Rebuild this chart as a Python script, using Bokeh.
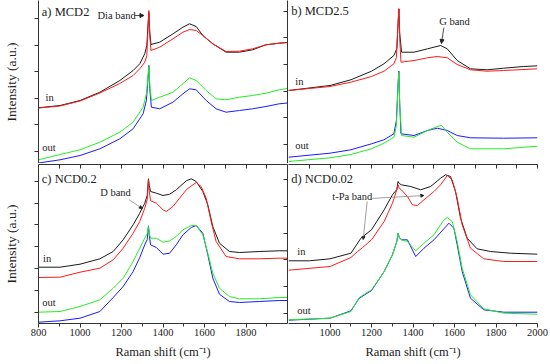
from bokeh.plotting import figure
from bokeh.layouts import column, row
from bokeh.models import Range1d, LinearAxis, FixedTicker, Label, Arrow, NormalHead
from bokeh.embed import file_html
from bokeh.resources import INLINE

FONT = "Liberation Serif"
AX = "#333333"
TXT = "#222222"
C_BLACK, C_RED, C_GREEN, C_BLUE = "#1a1a1a", "#ff1a1a", "#22ee22", "#1a1aff"

# ---------------- data (Raman shift, intensity a.u.) ----------------
# panel a) MCD2
a_in_x = [800, 904, 1000, 1096, 1192, 1256, 1288, 1312, 1322, 1328, 1332, 1336, 1342, 1384, 1448, 1496, 1528, 1560, 1592, 1640, 1704, 1768, 1832, 1896, 1960, 2000]
a_black = [55.7, 58, 63, 71.3, 83, 93, 99.7, 109.7, 118, 140, 151, 132, 119, 121.3, 129.7, 136.3, 139.7, 137, 128, 119.7, 111.3, 111.3, 113.7, 118.7, 120.3, 121]
a_red = [55.5, 57.5, 62.5, 70.5, 80, 88, 94.7, 101.3, 108, 135, 153, 128, 113, 116.3, 124.7, 131.3, 134, 133, 128, 119.7, 112, 112.3, 114.7, 118.7, 120.3, 121]
a_out_x = [800, 904, 1000, 1096, 1192, 1256, 1304, 1320, 1328, 1332, 1336, 1344, 1384, 1448, 1496, 1528, 1560, 1608, 1656, 1704, 1768, 1832, 1896, 1960, 2000]
a_green = [3.7, 9, 13.7, 21.3, 31.3, 41.3, 56.3, 69.7, 88, 97, 80, 63, 66.3, 71.3, 79.7, 85.7, 83, 73, 64.7, 63.7, 66.3, 68, 70.3, 73.7, 75]
a_blue = [0.5, 3.7, 8, 14.7, 24.7, 34.7, 49.7, 63, 85, 98, 75, 56.3, 54.7, 61.3, 69.7, 74.7, 73.7, 63, 54.7, 51.3, 53, 54.7, 57, 59.7, 60.5]

# panel b) MCD2.5
b_black_x = [800, 1000, 1100, 1200, 1260, 1308, 1322, 1328, 1332, 1336, 1345, 1405, 1470, 1533, 1565, 1613, 1677, 1757, 1837, 1933, 2000]
b_black = [73, 78, 83.7, 92.3, 99.7, 108, 115, 140, 154.7, 130, 111.3, 111.3, 114.7, 118, 114.7, 103, 94.7, 93.7, 95.3, 97, 97.7]
b_red_x = [800, 1000, 1100, 1200, 1260, 1308, 1320, 1328, 1332, 1336, 1342, 1405, 1470, 1517, 1565, 1613, 1677, 1757, 1837, 2000]
b_red = [73, 77, 81.3, 87, 92.3, 99.7, 106, 140, 154.7, 125, 101.3, 103, 105.7, 107, 105.7, 99, 93.7, 92.3, 93, 94.7]
b_blue_x = [800, 1000, 1100, 1200, 1260, 1308, 1320, 1328, 1332, 1336, 1342, 1405, 1470, 1517, 1565, 1613, 1677, 1837, 2000]
b_blue = [6.3, 10.3, 13.7, 19.7, 23.7, 29.7, 43, 80, 92.3, 60, 29.7, 28, 33, 35.3, 33, 28, 25.7, 25.3, 25.7]
b_green_x = [800, 1000, 1100, 1200, 1260, 1308, 1320, 1328, 1332, 1336, 1345, 1405, 1470, 1517, 1538, 1565, 1613, 1677, 1837, 2000]
b_green = [2, 5.7, 9, 14.7, 20.3, 26.3, 38, 78, 91.3, 58, 28, 26.3, 33, 37, 38, 31.3, 21.3, 14.7, 14.7, 17.3]

# panel c) NCD0.2
c_black_x = [800, 904, 1000, 1096, 1160, 1208, 1256, 1288, 1312, 1324, 1330, 1334, 1340, 1368, 1400, 1432, 1464, 1512, 1536, 1560, 1592, 1616, 1640, 1672, 1720, 1768, 1864, 1960, 2000]
c_black = [56.3, 56.3, 59.3, 64.7, 72, 83.7, 98.7, 110.3, 120.3, 128, 144.7, 138, 132, 130.3, 128, 129.3, 133.7, 142.7, 144.7, 142, 132, 118.7, 97, 80.3, 72, 71, 72, 72.7, 72.7]
c_red_x = [800, 904, 1000, 1096, 1160, 1208, 1256, 1288, 1312, 1324, 1330, 1334, 1340, 1368, 1400, 1416, 1448, 1480, 1512, 1544, 1560, 1584, 1608, 1632, 1656, 1704, 1768, 1864, 1960, 2000]
c_red = [46, 46.3, 51.3, 55.3, 63.7, 75.3, 90.3, 102, 115.3, 124, 143.7, 132, 122.7, 120.3, 113.7, 112, 117, 125.3, 133.7, 138.7, 141, 137, 125.3, 102, 82, 67, 64.7, 64.7, 65.3, 65.3]
c_out_x = [800, 904, 1000, 1096, 1160, 1208, 1256, 1288, 1312, 1324, 1330, 1334, 1340, 1368, 1400, 1432, 1464, 1496, 1536, 1560, 1592, 1616, 1640, 1672, 1720, 1768, 1864, 1960, 2000]
c_green = [11.3, 12, 17, 23.7, 35.3, 45.3, 62, 75.3, 85.3, 90, 97, 90, 85.3, 85.3, 81.3, 82.7, 87, 93.7, 98, 98, 88.7, 70.3, 50.3, 35.3, 27, 24.7, 24.7, 26, 26]
c_blue = [1.3, 2.7, 5.3, 12, 26, 37, 52, 66, 78.7, 84, 97.7, 88, 78.7, 76, 69.3, 70.3, 78.7, 88.7, 96, 98, 90.3, 68.7, 45.3, 29.3, 22, 21, 22, 23, 23]

# panel d) NCD0.02
d_black_x = [800, 901, 1000, 1101, 1149, 1200, 1261, 1301, 1322, 1328, 1334, 1344, 1389, 1437, 1485, 1533, 1557, 1581, 1605, 1629, 1661, 1709, 1773, 1869, 2000]
d_black = [62.7, 62.7, 64.7, 70.3, 85.3, 93.7, 113.7, 128.7, 134, 142, 140, 138.7, 137, 133.7, 137, 145.3, 148.7, 147, 132, 105.3, 85.3, 74.7, 72, 70.3, 69.3]
d_red_x = [800, 1000, 1101, 1133, 1157, 1200, 1261, 1301, 1322, 1328, 1334, 1344, 1373, 1397, 1421, 1453, 1501, 1533, 1565, 1589, 1613, 1637, 1677, 1741, 1837, 2000]
d_red = [53.3, 57, 66, 72, 76, 83.7, 102, 120.3, 133.7, 138.7, 135, 133.7, 127, 118.7, 118, 123.7, 132, 138.7, 148, 143.7, 125.3, 98.7, 75.3, 64.7, 62, 62]
d_green_x = [800, 1000, 1101, 1141, 1200, 1261, 1301, 1322, 1328, 1334, 1344, 1373, 1413, 1453, 1501, 1549, 1565, 1589, 1613, 1637, 1677, 1741, 1837, 2000]
d_green = [3.7, 5.3, 12, 26, 33.7, 52, 68.7, 82, 90.3, 86, 83.7, 82, 72.7, 80.3, 88.7, 103.7, 106, 102, 82, 55.3, 28.7, 14.7, 10.3, 9.3]
d_blue_x = [800, 1000, 1101, 1141, 1200, 1261, 1301, 1322, 1328, 1334, 1344, 1373, 1413, 1453, 1501, 1549, 1573, 1597, 1613, 1637, 1677, 1741, 1837, 2000]
d_blue = [3.3, 5.3, 12.7, 25.3, 33, 52, 68.7, 82, 90.3, 86, 83.7, 83.7, 67, 75.3, 83.7, 94.7, 100.3, 95.3, 78.7, 52, 25.3, 13.7, 11.3, 11.3]

# y tick positions (unlabelled) for each panel
a_yticks = [12.3, 39, 65.3, 92, 118, 144.7]
b_yticks = [19, 46, 72.3, 99.5, 126.3, 152.3]
c_yticks = [11, 33, 54.7, 77, 98.7, 120.3, 142]
d_yticks = [10.3, 37, 63.7, 90.3, 117, 143.7]

x_major_left = [800, 1000, 1200, 1400, 1600, 1800]
x_major_right = [1000, 1200, 1400, 1600, 1800, 2000]
x_minor = [900, 1100, 1300, 1500, 1700, 1900]
x_top_ticks_left = [900, 1000, 1100, 1200, 1300, 1400, 1500, 1600, 1700, 1800, 1900]
x_top_ticks_right = [900, 1000, 1100, 1200, 1300, 1400, 1500, 1600, 1700, 1800, 1900, 2000]

TOP_MAX, BOT_MAX = 163, 159
LEFT_B, FRAME_W, RIGHT_B = 38, 249, 13
TOP_H, BOT_FRAME, BOT_B = 163, 159, 41


def make_fig(left, top):
    w = (LEFT_B + FRAME_W + 1) if left else (FRAME_W + RIGHT_B)
    h = TOP_H if top else (1 + BOT_FRAME + BOT_B)
    p = figure(width=w, height=h, x_range=Range1d(800, 2000),
               y_range=Range1d(0, TOP_MAX if top else BOT_MAX),
               output_backend="svg", toolbar_location=None,
               x_axis_location=None if top else "below",
               y_axis_location="left" if left else None,
               min_border_left=LEFT_B if left else 0,
               min_border_right=1 if left else RIGHT_B,
               min_border_top=0 if top else 1,
               min_border_bottom=0 if top else BOT_B)
    p.outline_line_color = None
    p.grid.visible = False
    p.background_fill_color = "white"
    p.border_fill_color = "white"
    return p


def blank(ticks):
    return {t: "" for t in ticks}


def style_left_axis(p, ticks):
    ax = p.left[0]
    ax.ticker = FixedTicker(ticks=ticks)
    ax.major_tick_out = 4
    ax.major_tick_in = 0
    ax.minor_tick_out = 0
    ax.minor_tick_in = 0
    ax.major_label_overrides = blank(ticks)
    ax.major_label_text_font_size = "0px"
    ax.major_label_standoff = 0
    ax.axis_line_color = AX
    ax.major_tick_line_color = AX
    ax.axis_label = "Intensity (a.u.)"
    ax.axis_label_text_font = FONT
    ax.axis_label_text_font_style = "normal"
    ax.axis_label_text_font_size = "13.5px"
    ax.axis_label_text_color = TXT
    ax.axis_label_standoff = 16


def add_right_axis(p, rmax, ticks):
    p.extra_y_ranges = {"rp": Range1d(0, rmax)}
    ax = LinearAxis(y_range_name="rp", ticker=FixedTicker(ticks=ticks),
                    major_tick_in=4, major_tick_out=0, minor_tick_in=0, minor_tick_out=0,
                    major_label_overrides=blank(ticks),
                    major_label_text_font_size="0px", major_label_standoff=0,
                    axis_line_color=AX, major_tick_line_color=AX)
    p.add_layout(ax, "right")


def add_above_axis(p, ticks):
    ax = LinearAxis(ticker=FixedTicker(ticks=ticks),
                    major_tick_in=4, major_tick_out=0, minor_tick_in=0, minor_tick_out=0,
                    major_label_overrides=blank(ticks),
                    major_label_text_font_size="0px", major_label_standoff=0,
                    axis_line_color=AX, major_tick_line_color=AX)
    p.add_layout(ax, "above")


def style_bottom_axis(p, majors):
    ax = p.below[0]
    ax.ticker = FixedTicker(ticks=majors, minor_ticks=x_minor)
    ax.major_tick_out = 4
    ax.major_tick_in = 0
    ax.minor_tick_out = 3
    ax.minor_tick_in = 0
    ax.axis_line_color = AX
    ax.major_tick_line_color = AX
    ax.minor_tick_line_color = AX
    ax.major_label_text_font = FONT
    ax.major_label_text_font_size = "10.5px"
    ax.major_label_text_color = TXT
    ax.major_label_standoff = 1
    ax.axis_label = "Raman shift (cm\u207b\u00b9)"
    ax.axis_label_text_font = FONT
    ax.axis_label_text_font_style = "normal"
    ax.axis_label_text_font_size = "12.5px"
    ax.axis_label_text_color = TXT
    ax.axis_label_standoff = 6


def lines(p, series):
    for xs, ys, col in series:
        p.line(xs, ys, line_color=col, line_width=1)


def label(p, x, y, text, size="10.5px", align="left"):
    p.add_layout(Label(x=x, y=y, text=text, text_font=FONT, text_font_size=size,
                       text_color=TXT, text_baseline="middle", text_align=align))


def arrow(p, x0, y0, x1, y1, color="#222222", size=4):
    p.add_layout(Arrow(end=NormalHead(size=size, fill_color="#222222", line_color="#222222"),
                       x_start=x0, y_start=y0, x_end=x1, y_end=y1,
                       line_color=color, line_width=0.8))


# ---- a ----
pa = make_fig(True, True)
style_left_axis(pa, a_yticks)
add_right_axis(pa, TOP_MAX, b_yticks)
lines(pa, [(a_in_x, a_black, C_BLACK), (a_in_x, a_red, C_RED),
           (a_out_x, a_blue, C_BLUE), (a_out_x, a_green, C_GREEN)])
label(pa, 816, 152, "a) MCD2", "12.5px")
label(pa, 1084, 148, "Dia band")
arrow(pa, 1263, 148, 1308, 148)
label(pa, 834, 66, "in")
label(pa, 818, 16, "out")

# ---- b ----
pb = make_fig(False, True)
lines(pb, [(b_black_x, b_black, C_BLACK), (b_red_x, b_red, C_RED),
           (b_blue_x, b_blue, C_BLUE), (b_green_x, b_green, C_GREEN)])
label(pb, 813, 153, "b) MCD2.5", "12.5px")
label(pb, 1600, 142, "G band", "10.5px", "center")
arrow(pb, 1549, 136, 1537, 120)
label(pb, 833, 82, "in")
label(pb, 833, 18, "out")

# ---- c ----
pc = make_fig(True, False)
style_bottom_axis(pc, x_major_left)
style_left_axis(pc, c_yticks)
add_right_axis(pc, BOT_MAX, d_yticks)
add_above_axis(pc, x_top_ticks_left)
lines(pc, [(c_black_x, c_black, C_BLACK), (c_red_x, c_red, C_RED),
           (c_out_x, c_blue, C_BLUE), (c_out_x, c_green, C_GREEN)])
label(pc, 816, 145, "c) NCD0.2", "12.5px")
label(pc, 1171, 131, "D band", "10.5px", "center")
arrow(pc, 1235, 124, 1300, 115, "#888888", 3)
label(pc, 822, 65, "in")
label(pc, 818, 21, "out")

# ---- d ----
pd_ = make_fig(False, False)
style_bottom_axis(pd_, x_major_right)
add_above_axis(pd_, x_top_ticks_right)
lines(pd_, [(d_black_x, d_black, C_BLACK), (d_red_x, d_red, C_RED),
            (d_blue_x, d_blue, C_BLUE), (d_green_x, d_green, C_GREEN)])
label(pd_, 813, 145, "d) NCD0.02", "12.5px")
label(pd_, 1107, 127, "t-Pa band", "10.5px", "center")
arrow(pd_, 1195, 125, 1452, 128, "#888888", 3)
arrow(pd_, 1179, 122, 1160, 84, "#888888", 3)
label(pd_, 842, 72, "in")
label(pd_, 842, 13, "out")

layout = column(row(pa, pb), row(pc, pd_))
open("out.html", "w").write(file_html(layout, INLINE))
